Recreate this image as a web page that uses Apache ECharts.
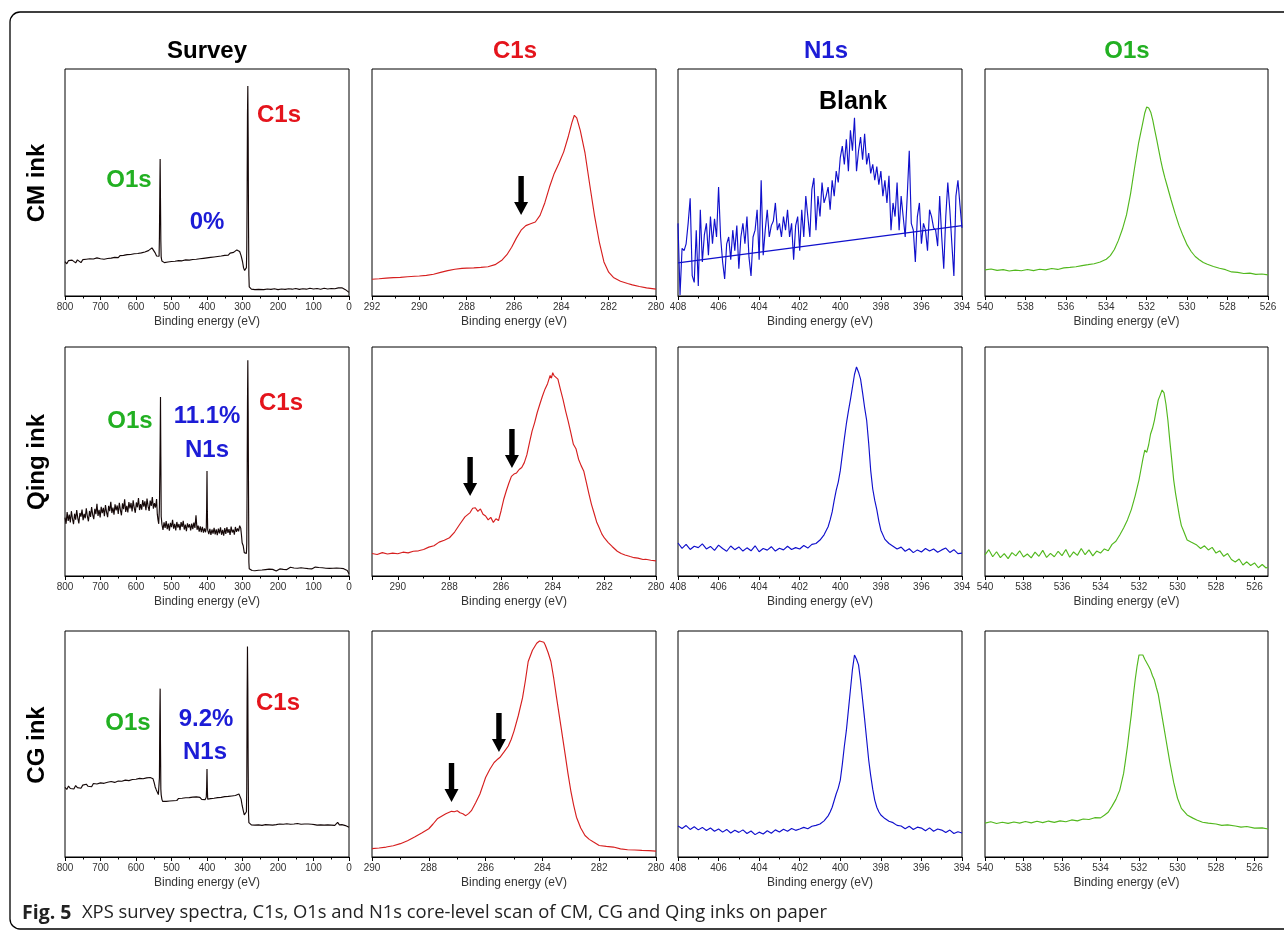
<!DOCTYPE html>
<html><head><meta charset="utf-8">
<script src="https://cdn.jsdelivr.net/npm/echarts@6/dist/echarts.min.js"></script>
<style>html,body{margin:0;padding:0;background:#fff}#c{width:1284px;height:940px}</style>
</head><body><div id="c"></div>
<script>
// ---------------- DATA (binding energy eV, normalised intensity 0-100) ----------------
const surveyCM = [[800,15.1],[795,14.2],[790,15.6],[785,14.9],[780,15.8],[775,15.0],[770,14.6],[765,15.9],[760,15.2],[755,14.7],[750,16.0],[745,15.3],[740,16.2],[735,15.5],[730,16.4],[725,15.7],[720,16.3],[715,15.6],[710,16.8],[705,16.0],[700,16.4],[695,17.0],[690,16.2],[685,16.9],[680,16.5],[675,17.3],[670,16.7],[665,17.5],[660,17.0],[655,17.6],[650,16.9],[645,17.8],[640,17.2],[635,17.9],[630,17.3],[625,18.2],[620,17.6],[615,18.3],[610,17.8],[605,18.6],[600,18.0],[595,18.7],[590,18.2],[585,19.0],[580,18.6],[575,19.4],[570,19.2],[565,20.0],[560,20.4],[555,21.2],[550,20.6],[546,19.0],[542,17.6],[538,16.8],[535,17.5],[534,26],[533,45],[532,60.4],[531,42],[530,24],[529,17],[527,15.4],[524,15.0],[520,14.7],[515,15.4],[510,15.0],[505,15.6],[500,15.2],[495,15.9],[490,15.3],[485,16.0],[480,15.6],[475,16.2],[470,15.5],[465,16.3],[460,15.9],[455,16.5],[450,15.8],[445,16.6],[440,16.1],[435,16.8],[430,16.2],[425,17.0],[420,16.4],[415,17.1],[410,16.6],[405,17.3],[400,16.8],[395,17.5],[390,17.0],[385,17.6],[380,17.2],[375,17.9],[370,17.4],[365,18.2],[360,17.6],[355,18.4],[350,17.9],[345,18.6],[340,18.0],[335,18.9],[330,18.4],[325,19.2],[320,19.6],[316,20.3],[312,20.8],[308,19.6],[304,17.8],[300,15.2],[297,12.4],[294,11.2],[291,10.8],[289,12.5],[288,20],[287,45],[286,80],[285,92.5],[284,70],[283,30],[282,9],[281,4.0],[279,3.3],[275,3.0],[270,3.2],[265,2.8],[260,3.1],[255,2.9],[250,3.2],[240,2.8],[230,3.1],[220,2.9],[210,3.2],[200,2.8],[190,3.1],[180,2.9],[170,3.2],[160,3.0],[150,3.3],[140,2.9],[130,3.2],[120,3.0],[110,3.4],[100,3.1],[90,3.3],[80,3.0],[70,3.4],[60,3.1],[50,3.3],[40,3.2],[30,3.6],[25,4.0],[20,3.6],[15,3.2],[10,2.8],[5,2.4],[0,1.6]];

const surveyQing = [[800,25.5],[797,22.8],[794,27.9],[791,24.1],[788,26.8],[785,23.4],[782,28.3],[779,25.0],[776,22.6],[773,27.2],[770,24.6],[767,28.8],[764,25.3],[761,23.0],[758,27.5],[755,25.9],[752,29.0],[749,24.4],[746,27.1],[743,25.2],[740,29.6],[737,26.0],[734,23.9],[731,28.4],[728,25.8],[725,30.1],[722,26.7],[719,24.8],[716,29.3],[713,27.0],[710,31.5],[707,26.2],[704,28.9],[701,25.6],[698,30.2],[695,27.4],[692,29.8],[689,26.1],[686,31.0],[683,27.9],[680,25.7],[677,30.6],[674,28.3],[671,32.4],[668,27.5],[665,29.9],[662,26.8],[659,31.3],[656,28.6],[653,30.8],[650,27.1],[647,32.0],[644,28.9],[641,26.5],[638,31.7],[635,29.2],[632,33.5],[629,28.0],[626,30.6],[623,27.8],[620,32.3],[617,29.5],[614,31.9],[611,28.2],[608,33.0],[605,29.7],[602,27.6],[599,32.1],[596,30.0],[593,34.0],[590,28.8],[587,31.4],[584,29.0],[581,33.2],[578,30.3],[575,32.6],[572,28.7],[569,33.8],[566,30.5],[563,28.4],[560,32.9],[557,30.6],[554,34.5],[551,29.4],[548,31.8],[545,29.9],[542,33.6],[540,27.0],[538,24.5],[536,22.8],[534,30],[532,58],[531,78.2],[530,52],[529,26],[527,22.6],[524,20.1],[521,23.4],[518,21.0],[515,24.0],[512,20.5],[509,22.9],[506,19.8],[503,23.2],[500,21.3],[497,24.5],[494,20.7],[491,22.8],[488,19.9],[485,23.6],[482,21.1],[479,22.7],[476,20.0],[473,23.5],[470,21.4],[467,24.1],[464,20.3],[461,22.4],[458,19.6],[455,23.0],[452,21.2],[449,22.6],[446,19.9],[443,22.9],[440,20.5],[437,23.3],[434,21.0],[431,26.5],[428,20.2],[425,22.0],[422,19.4],[419,21.7],[416,19.2],[413,21.5],[410,18.9],[407,20.8],[404,19.1],[402,21],[401,30],[400,45.9],[399,28],[398,20.0],[395,18.3],[392,20.6],[389,17.9],[386,20.3],[383,18.5],[380,21.0],[377,18.2],[374,20.4],[371,17.8],[368,20.7],[365,18.6],[362,21.2],[359,18.0],[356,20.1],[353,17.6],[350,20.9],[347,18.4],[344,21.3],[341,18.8],[338,20.5],[335,17.9],[332,21.6],[329,19.0],[326,20.2],[323,18.1],[320,21.4],[317,19.3],[314,20.8],[311,19.5],[308,22.0],[305,20.9],[303,18],[301,14.5],[298,13.2],[295,10.2],[292,9.4],[289,9.8],[288,14],[287,40],[286,75],[285,94.2],[284,72],[283,35],[282,6],[281,3.2],[279,2.5],[276,2.9],[273,2.4],[270,2.8],[265,2.3],[260,2.9],[255,2.5],[250,3.0],[245,2.6],[240,2.2],[235,2.8],[230,2.5],[225,3.0],[220,2.4],[215,2.9],[210,2.6],[205,2.2],[200,2.7],[195,3.1],[190,2.5],[185,2.9],[180,3.4],[175,2.8],[170,3.2],[165,3.8],[160,3.0],[155,3.5],[150,2.9],[145,3.4],[140,3.1],[135,3.6],[130,3.0],[125,3.4],[120,3.8],[115,3.2],[110,3.6],[105,3.1],[100,3.5],[95,3.9],[90,3.3],[85,3.7],[80,3.2],[75,3.6],[70,4.0],[65,3.4],[60,3.8],[55,3.3],[50,3.7],[45,3.4],[40,3.9],[35,3.5],[30,3.8],[25,3.4],[20,3.7],[15,3.2],[10,3.5],[5,2.4],[0,1.0]];

const surveyCG = [[800,30.8],[795,29.9],[790,31.4],[785,30.3],[780,31.0],[775,30.1],[770,31.6],[765,30.7],[760,31.2],[755,30.4],[750,31.8],[745,31.0],[740,32.2],[735,31.3],[730,31.9],[725,31.1],[720,32.5],[715,31.7],[710,32.3],[705,31.5],[700,32.8],[695,32.0],[690,32.6],[685,31.8],[680,33.1],[675,32.3],[670,33.4],[665,32.6],[660,33.0],[655,32.2],[650,33.6],[645,32.9],[640,33.5],[635,32.7],[630,34.0],[625,33.2],[620,33.8],[615,33.0],[610,34.3],[605,33.6],[600,34.4],[595,33.7],[590,34.8],[585,34.0],[580,34.6],[575,33.9],[570,35.0],[565,34.3],[560,35.2],[555,35.8],[552,34.6],[549,33.0],[546,31.0],[543,29.8],[540,29.0],[537,27.6],[535,27.0],[534,35],[533,60],[532,74.5],[531,50],[530,30],[529,27.5],[527,25.5],[525,24.6],[520,25.2],[515,24.6],[510,25.4],[505,24.8],[500,25.6],[495,24.9],[490,25.7],[485,25.0],[480,25.9],[475,25.2],[470,26.0],[465,25.3],[460,26.2],[455,25.4],[450,26.3],[445,25.6],[440,26.5],[435,25.7],[430,26.6],[425,25.8],[420,26.4],[415,25.5],[410,26.2],[405,25.4],[402,26.5],[401,31],[400,38.9],[399,30],[398,25.6],[395,24.9],[390,25.8],[385,25.1],[380,26.0],[375,25.4],[370,26.3],[365,25.6],[360,26.4],[355,25.8],[350,26.7],[345,26.0],[340,26.8],[335,26.1],[330,27.0],[325,26.4],[320,27.2],[315,26.8],[310,27.9],[307,27.5],[304,25.6],[301,22.8],[298,20.6],[295,18.6],[293,18.2],[291,18.8],[289,20.0],[288,30],[287,70],[286,93.1],[285,75],[284,40],[283,19],[282,15.2],[281,14.4],[278,14.6],[275,14.2],[270,14.5],[265,14.1],[260,14.6],[255,14.2],[250,14.5],[245,14.0],[240,14.6],[235,14.3],[230,14.7],[225,14.2],[220,14.5],[215,14.1],[210,14.6],[205,14.3],[200,14.2],[195,14.6],[190,14.1],[185,14.5],[180,14.2],[175,14.7],[170,14.3],[165,14.5],[160,14.1],[155,14.6],[150,14.4],[145,14.8],[140,14.2],[135,14.5],[130,14.1],[125,14.6],[120,14.3],[115,14.6],[110,14.2],[105,14.5],[102,15.2],[100,15.0],[97,14.3],[95,14.5],[90,14.1],[85,14.6],[80,14.2],[75,14.5],[70,14.1],[65,14.6],[60,14.2],[55,14.5],[50,14.1],[45,14.4],[40,14.0],[35,14.5],[32,15.3],[30,15.0],[27,14.2],[25,14.0],[20,14.3],[15,13.8],[10,13.9],[5,13.5],[0,13.2]];

const c1sCM = [[292,7.4],[291.7,7.6],[291.4,7.9],[291.1,8.1],[290.8,8.2],[290.5,8.5],[290.2,8.7],[290,8.8],[289.7,9.1],[289.4,9.6],[289.1,10.4],[288.8,11.2],[288.5,11.8],[288.2,12.2],[288,12.3],[287.7,12.4],[287.4,12.6],[287.1,12.9],[286.8,13.8],[286.5,15.9],[286.3,18.2],[286.1,21.5],[285.9,25.5],[285.7,29.0],[285.5,31.0],[285.3,31.8],[285.1,32.6],[284.9,35.5],[284.7,41.0],[284.5,48.0],[284.3,54.0],[284.1,58.5],[283.9,63.5],[283.7,70.5],[283.55,76.5],[283.45,79.6],[283.35,78.5],[283.2,73.0],[283.0,63.0],[282.8,49.0],[282.6,35.5],[282.4,24.0],[282.2,15.0],[282.0,10.5],[281.8,8.2],[281.5,6.5],[281.2,5.5],[281,4.9],[280.7,4.2],[280.4,3.6],[280,3.0]];

const c1sQing = [[291,9.8],[290.8,9.4],[290.6,10.2],[290.4,9.6],[290.2,10.0],[290,9.7],[289.8,10.4],[289.6,10.1],[289.4,10.8],[289.2,11.0],[289,11.6],[288.8,12.6],[288.6,13.2],[288.4,14.8],[288.2,15.6],[288,16.7],[287.8,19.2],[287.6,22.6],[287.4,25.8],[287.2,27.7],[287.1,29.6],[287,29.8],[286.9,28.2],[286.8,29.3],[286.7,27.0],[286.6,26.2],[286.5,24.5],[286.4,25.6],[286.3,23.4],[286.2,25.0],[286.1,24.2],[286,28.5],[285.9,33.4],[285.8,37.1],[285.7,40.5],[285.6,43.5],[285.5,44.5],[285.4,45.0],[285.3,46.5],[285.2,47.4],[285.1,49.5],[285,53.0],[284.9,58.2],[284.8,63.3],[284.7,67.0],[284.6,71.4],[284.5,75.0],[284.4,78.5],[284.3,81.6],[284.2,84.0],[284.1,87.6],[284.05,86.4],[284,88.8],[283.95,87.5],[283.9,88.3],[283.8,86.0],[283.7,81.4],[283.6,77.0],[283.5,72.0],[283.4,67.5],[283.3,62.6],[283.2,57.5],[283.1,55.6],[283,51.0],[282.9,48.2],[282.8,45.9],[282.7,41.0],[282.6,36.0],[282.5,31.3],[282.4,27.5],[282.3,23.6],[282.2,21.1],[282.1,18.4],[282,16.6],[281.85,14.6],[281.7,12.9],[281.5,10.8],[281.35,9.8],[281.2,9.2],[281,8.5],[280.85,8.0],[280.7,7.8],[280.5,7.2],[280.4,7.3],[280.2,6.9],[280,6.6]];

const c1sCG = [[290,3.7],[289.75,4.0],[289.5,4.4],[289.25,5.0],[289,5.9],[288.75,7.2],[288.5,8.8],[288.25,10.6],[288,12.5],[287.85,14.6],[287.7,16.9],[287.55,18.0],[287.4,19.1],[287.2,20.2],[287.1,20.0],[287,20.5],[286.9,19.6],[286.8,19.1],[286.7,18.3],[286.6,19.2],[286.5,20.5],[286.35,24.0],[286.2,27.9],[286.1,31.5],[286,35.2],[285.85,38.8],[285.7,41.8],[285.6,43.0],[285.5,44.0],[285.35,46.5],[285.2,49.1],[285.1,52.0],[285,55.7],[284.85,62.5],[284.7,70.4],[284.6,78.0],[284.5,86.5],[284.35,91.5],[284.2,94.6],[284.1,95.6],[284.05,96.0],[283.95,95.0],[283.9,93.8],[283.8,90.5],[283.7,86.5],[283.6,79.0],[283.5,70.4],[283.35,58.0],[283.2,45.5],[283.1,37.0],[283,29.3],[282.9,23.0],[282.8,17.6],[282.65,12.8],[282.5,9.5],[282.35,7.8],[282.2,6.6],[282,5.1],[281.75,4.7],[281.5,4.4],[281.25,3.6],[281,3.2],[280.75,3.1],[280.5,2.9],[280.25,2.8],[280,2.6]];

// N1s of CM ink ("Blank"), recorded on a 0.1 eV grid starting at 408 eV
const n1sBlankStart = 408;
const n1sBlankStep = 0.1;
const n1sBlankY = [32,0.5,21,20,23,32,43,9,6,29,
  4.4,38,15,27,32,18,35,23,34,26,
  48,26,15,7.5,23,26,16,29,20,31,
  12,26,32,23,35,17,8.8,26,29,38,
  16,51,18,29,38,26,31,33,41,29,
  32,26,35,29,38,26,32,16,31,35,
  20,38,26,44,35,26,47,52,29,44,
  35,50,41,44,48,38,51,44,55,50,
  61,66,58,69,55,73,64,78.5,55,64,
  70,60,71.5,58,63,54,58,51,57,49,
  55,44,51,41,53,29,41,35,50,29,
  44,35,26,44,64,32,29,15,35,41,
  23,32,29,20,38,35,30,29,22,44,
  26,12,35,50,38,23,8.8,44,51,40,
  30];
const n1sBlankBaseline = [[408,14.6],[394,31]];

const n1sQing = [[408,14.4],[407.8,12.1],[407.6,13.8],[407.4,11.6],[407.2,13.0],[407,12.4],[406.8,14.0],[406.6,11.8],[406.4,12.9],[406.2,11.2],[406,13.5],[405.8,12.0],[405.6,10.8],[405.4,13.1],[405.2,11.5],[405,12.7],[404.8,10.9],[404.6,12.3],[404.4,11.0],[404.2,13.2],[404,10.6],[403.8,12.0],[403.6,11.3],[403.4,12.8],[403.2,10.9],[403,12.1],[402.8,11.4],[402.6,13.0],[402.4,11.6],[402.2,12.4],[402,11.8],[401.8,13.3],[401.6,12.2],[401.4,13.8],[401.2,14.2],[401,15.7],[400.8,18.0],[400.6,21.5],[400.5,24.5],[400.4,28.0],[400.3,33.0],[400.2,37.5],[400.1,41.0],[400,46.0],[399.9,53.0],[399.8,60.0],[399.7,66.5],[399.6,72.0],[399.5,77.0],[399.4,82.5],[399.3,88.0],[399.2,91.3],[399.1,89.0],[399,86.0],[398.9,80.0],[398.8,73.5],[398.7,68.0],[398.6,58.0],[398.5,46.0],[398.4,38.0],[398.3,33.0],[398.2,29.0],[398.1,24.0],[398,20.0],[397.8,16.0],[397.6,14.2],[397.4,13.0],[397.2,11.8],[397,12.6],[396.8,10.8],[396.6,11.9],[396.4,10.2],[396.2,11.4],[396,10.5],[395.8,12.0],[395.6,10.9],[395.4,11.8],[395.2,10.4],[395,11.4],[394.8,12.2],[394.6,10.3],[394.4,11.5],[394.2,9.8],[394,10.0]];

const n1sCG = [[408,13.7],[407.8,12.6],[407.6,13.9],[407.4,12.2],[407.2,13.4],[407,12.0],[406.8,13.1],[406.6,11.7],[406.4,12.8],[406.2,11.4],[406,12.4],[405.8,11.0],[405.6,12.2],[405.4,10.6],[405.2,11.8],[405,10.9],[404.8,12.0],[404.6,10.4],[404.4,11.5],[404.2,9.9],[404,11.0],[403.8,10.2],[403.6,11.6],[403.4,10.5],[403.2,12.0],[403,11.1],[402.8,12.3],[402.6,11.4],[402.4,12.6],[402.2,11.8],[402,12.4],[401.8,13.1],[401.6,12.5],[401.4,13.6],[401.2,14.0],[401,14.6],[400.8,16.0],[400.6,18.2],[400.5,19.9],[400.4,22.0],[400.3,25.0],[400.2,28.0],[400.1,30.5],[400,34.0],[399.9,41.0],[399.8,49.0],[399.7,56.0],[399.6,65.0],[399.5,74.0],[399.4,83.0],[399.3,89.4],[399.2,87.5],[399.1,85.0],[399,78.0],[398.9,69.5],[398.8,61.0],[398.7,52.0],[398.6,42.9],[398.5,36.0],[398.4,30.0],[398.3,25.2],[398.2,22.0],[398.1,20.0],[398,18.6],[397.8,17.0],[397.6,15.8],[397.4,15.2],[397.2,14.0],[397,13.7],[396.8,12.5],[396.6,13.6],[396.4,12.2],[396.2,13.2],[396,12.8],[395.8,11.6],[395.6,12.9],[395.4,11.4],[395.2,12.4],[395,11.9],[394.8,10.8],[394.6,11.9],[394.4,10.4],[394.2,11.2],[394,10.6]];

const o1sCM = [[540,11.5],[539.7,11.9],[539.4,11.3],[539.1,11.6],[538.8,11.0],[538.5,11.4],[538.2,11.1],[537.9,11.7],[537.6,11.2],[537.3,11.8],[537,11.5],[536.7,12.1],[536.4,11.7],[536.1,12.4],[535.8,12.6],[535.5,12.9],[535.2,13.4],[534.9,13.8],[534.6,14.2],[534.3,15.0],[534,16.2],[533.8,17.8],[533.6,20.5],[533.4,24.5],[533.2,29.5],[533,35.7],[532.8,45.0],[532.6,56.5],[532.4,67.5],[532.2,76.0],[532.1,80.5],[532,83.3],[531.9,82.8],[531.8,81.0],[531.7,77.5],[531.6,73.0],[531.5,68.7],[531.4,64.0],[531.3,59.5],[531.2,55.5],[531.1,52.0],[531,48.9],[530.8,42.5],[530.6,36.5],[530.4,31.0],[530.2,26.5],[530,22.5],[529.8,19.6],[529.6,17.4],[529.4,16.0],[529.2,14.8],[529,14.0],[528.7,13.0],[528.4,12.2],[528.1,11.6],[527.8,10.6],[527.5,10.4],[527.2,9.9],[526.9,10.1],[526.6,9.5],[526.3,9.7],[526,9.3]];

const o1sQing = [[540,9.2],[539.8,11.5],[539.6,8.4],[539.4,10.6],[539.2,8.0],[539,9.8],[538.8,7.6],[538.6,10.2],[538.4,8.8],[538.2,11.0],[538,8.3],[537.8,9.6],[537.6,7.9],[537.4,10.4],[537.2,8.6],[537,11.2],[536.8,8.1],[536.6,9.9],[536.4,8.4],[536.2,10.8],[536,8.9],[535.8,11.6],[535.6,8.2],[535.4,10.5],[535.2,9.0],[535,12.0],[534.8,9.3],[534.6,11.4],[534.4,8.8],[534.2,10.9],[534,10.0],[533.8,11.8],[533.6,11.0],[533.4,13.8],[533.2,15.2],[533,17.9],[532.8,21.0],[532.6,24.5],[532.4,29.0],[532.2,35.0],[532,42.0],[531.9,46.5],[531.8,51.0],[531.7,55.0],[531.6,54.0],[531.5,57.2],[531.4,62.0],[531.3,64.5],[531.2,68.0],[531.1,72.5],[531,76.9],[530.9,79.0],[530.8,81.2],[530.7,80.0],[530.6,75.0],[530.5,68.0],[530.4,59.0],[530.3,50.7],[530.2,42.0],[530.1,36.0],[530,31.0],[529.9,26.0],[529.8,22.0],[529.7,20.0],[529.5,15.7],[529.3,14.8],[529,13.5],[528.8,12.0],[528.6,13.2],[528.4,11.4],[528.2,12.5],[528,10.0],[527.8,11.0],[527.6,8.6],[527.4,9.8],[527.2,7.2],[527,6.1],[526.8,7.4],[526.6,4.8],[526.4,6.2],[526.2,4.6],[526,5.7],[525.8,3.6],[525.6,5.0],[525.4,3.5],[525.3,3.9]];

const o1sCG = [[540,15.0],[539.7,15.6],[539.4,14.8],[539.1,15.4],[538.8,14.9],[538.5,15.5],[538.2,15.0],[537.9,15.7],[537.6,15.1],[537.3,15.8],[537,15.2],[536.7,15.9],[536.4,15.3],[536.1,16.0],[535.8,15.6],[535.5,16.4],[535.2,16.0],[534.9,16.8],[534.6,16.6],[534.3,17.4],[534,17.3],[533.8,18.5],[533.6,19.8],[533.4,22.5],[533.2,25.5],[533,29.6],[532.8,37.0],[532.7,42.9],[532.6,49.0],[532.5,56.2],[532.4,63.0],[532.3,71.0],[532.2,78.3],[532.1,84.5],[532,89.4],[531.9,88.6],[531.8,89.4],[531.7,87.5],[531.6,87.2],[531.5,84.4],[531.4,82.7],[531.3,80.2],[531.2,78.3],[531.1,75.0],[531,72.0],[530.9,67.0],[530.8,62.0],[530.7,57.0],[530.6,52.0],[530.5,47.0],[530.4,42.0],[530.3,37.5],[530.2,33.0],[530.1,29.5],[530,26.0],[529.8,21.5],[529.5,18.6],[529.2,17.2],[529,16.4],[528.7,15.4],[528.4,15.0],[528,14.6],[527.7,14.0],[527.4,14.2],[527,13.7],[526.7,13.2],[526.4,13.5],[526,12.8],[525.6,12.9],[525.3,12.4]];

// arrow tips (eV, intensity) marking C1s shoulders
const arrowsCM = [[285.7,35.7]];
const arrowsQing = [[287.2,34.9],[285.58,47.2]];
const arrowsCG = [[287.2,24.3],[285.53,46.5]];

// axis ranges [min, max]
const xRanges = [
  [[0,800],[280,292],[394,408],[526,540]],
  [[0,800],[280,291],[394,408],[525.3,540]],
  [[0,800],[280,290],[394,408],[525.3,540]]
];
const xIntervals = [100, 2, 2, 2];
const o1sMajorTicks = [526,528,530,532,534,536,538,540];
const o1sMinorTicks = [527,529,531,533,535,537,539];

const columnTitles = ['Survey','C1s','N1s','O1s'];
const rowTitles = ['CM ink','Qing ink','CG ink'];
const axisTitle = 'Binding energy (eV)';
const captionHead = 'Fig. 5';
const caption = 'XPS survey spectra, C1s, O1s and N1s core-level scan of CM, CG and Qing inks on paper';

// ---------------- LAYOUT / STYLE ----------------
const FONT = '"Liberation Sans", Arial, Helvetica, sans-serif';
const cols = [{left:65,width:284},{left:372,width:284},{left:678,width:284},{left:985,width:283}];
const rows = [{top:69,height:227},{top:347,height:229},{top:631,height:226}];
const lineColors = ['#150808','#d61f1f','#1010cc','#52b81e'];
const RED = '#e4141c', BLUE = '#1c1cd6', GREEN = '#22b022';

const n1sBlank = n1sBlankY.map((v,i)=>[+(n1sBlankStart - i*n1sBlankStep).toFixed(2), v]);
const panelData = [
  [surveyCM, c1sCM, n1sBlank, o1sCM],
  [surveyQing, c1sQing, n1sQing, o1sQing],
  [surveyCG, c1sCG, n1sCG, o1sCG]
];
const panelArrows = [arrowsCM, arrowsQing, arrowsCG];

const grid = [], xAxis = [], yAxis = [], series = [];
const tickStyle = {color:'#000', width:1};
for (let r=0;r<3;r++){
  for (let c=0;c<4;c++){
    const gi = grid.length;
    grid.push({left:cols[c].left, top:rows[r].top, width:cols[c].width, height:rows[r].height,
      show:true, borderColor:'#000', borderWidth:1, backgroundColor:'transparent'});
    const [mn,mx] = xRanges[r][c];
    const custom = (mn % xIntervals[c]) !== 0;
    const ax = {gridIndex:gi, type:'value', inverse:true, min:mn, max:mx, position:'bottom',
      axisLine:{show:true, onZero:false, lineStyle:{color:'#000', width:1}},
      axisTick:{show:true, length:4, lineStyle:tickStyle},
      minorTick:{show:true, splitNumber:2, length:2.5, lineStyle:tickStyle},
      axisLabel:{fontSize:10, color:'#333', margin:6, fontFamily:FONT, showMinLabel:true,
        showMaxLabel:(mx % xIntervals[c]) === 0, hideOverlap:false},
      splitLine:{show:false}, minorSplitLine:{show:false},
      name:axisTitle, nameLocation:'middle', nameGap:20,
      nameTextStyle:{fontSize:12, color:'#333', fontFamily:FONT}};
    if (!custom) ax.interval = xIntervals[c];
    else {
      ax.axisLabel.customValues = o1sMajorTicks;
      ax.axisTick.customValues = o1sMajorTicks;
      ax.minorTick.show = false;
    }
    const xi = xAxis.length;
    xAxis.push(ax);
    if (custom){
      xAxis.push({gridIndex:gi, type:'value', inverse:true, min:mn, max:mx, position:'bottom', offset:0,
        axisLine:{show:false}, axisLabel:{show:false}, splitLine:{show:false},
        axisTick:{show:true, length:2.5, customValues:o1sMinorTicks, lineStyle:tickStyle}});
    }
    yAxis.push({gridIndex:gi, type:'value', min:0, max:100, show:false});
    series.push({type:'line', xAxisIndex:xi, yAxisIndex:gi, data:panelData[r][c], showSymbol:false,
      symbol:'none', lineStyle:{color:lineColors[c], width:1.15}, silent:true, animation:false, clip:true});
    if (r===0 && c===2){
      series.push({type:'line', xAxisIndex:xi, yAxisIndex:gi, data:n1sBlankBaseline, showSymbol:false,
        symbol:'none', lineStyle:{color:lineColors[2], width:1.2}, silent:true, animation:false});
    }
    if (c===1){
      series.push({type:'scatter', xAxisIndex:xi, yAxisIndex:gi, data:panelArrows[r],
        symbol:'path://M4.3,0 L9.7,0 L9.7,26 L14,26 L7,39 L0,26 L4.3,26 Z',
        symbolSize:[14,39], symbolOffset:[0,'-50%'], itemStyle:{color:'#000', opacity:1}, silent:true, animation:false, z:5});
    }
  }
}

function txt(x,y,t,color,size,extra){
  return Object.assign({type:'text', x:x, y:y, silent:true,
    style:{text:t, fill:color, font:'bold '+size+'px '+FONT, align:'center', verticalAlign:'middle',
      textAlign:'center', textVerticalAlign:'middle'}}, extra||{});
}
const graphic = [
  {type:'rect', shape:{x:10, y:12, width:1290, height:917, r:10}, style:{fill:'none', stroke:'#000', lineWidth:1.3}, silent:true, z:-1},
  txt(207,51,columnTitles[0],'#000',24),
  txt(515,51,columnTitles[1],RED,24),
  txt(826,51,columnTitles[2],BLUE,24),
  txt(1127,51,columnTitles[3],GREEN,24),
  txt(37,183,rowTitles[0],'#000',24,{rotation:Math.PI/2}),
  txt(37,462,rowTitles[1],'#000',24,{rotation:Math.PI/2}),
  txt(37,745,rowTitles[2],'#000',24,{rotation:Math.PI/2}),
  // survey annotations
  txt(279,115,'C1s',RED,24), txt(129,180,'O1s',GREEN,24), txt(207,222,'0%',BLUE,24),
  txt(281,403,'C1s',RED,24), txt(130,421,'O1s',GREEN,24), txt(207,416,'11.1%',BLUE,24), txt(207,450,'N1s',BLUE,24),
  txt(278,703,'C1s',RED,24), txt(128,723,'O1s',GREEN,24), txt(206,719,'9.2%',BLUE,24), txt(205,752,'N1s',BLUE,24),
  txt(853,102,'Blank','#000',25),
  {type:'text', x:22, y:913, silent:true, style:{text:captionHead, fill:'#222', font:'bold 19.5px "Open Sans", sans-serif', align:'left', verticalAlign:'middle', textAlign:'left', textVerticalAlign:'middle'}},
  {type:'text', x:82, y:913, silent:true, style:{text:caption, fill:'#222', font:'18.4px "Open Sans", sans-serif', align:'left', verticalAlign:'middle', textAlign:'left', textVerticalAlign:'middle'}}
];

const chart = echarts.init(document.getElementById('c'), null, {renderer:'canvas'});
chart.setOption({animation:false, backgroundColor:'#fff', grid, xAxis, yAxis, series, graphic});
</script></body></html>
